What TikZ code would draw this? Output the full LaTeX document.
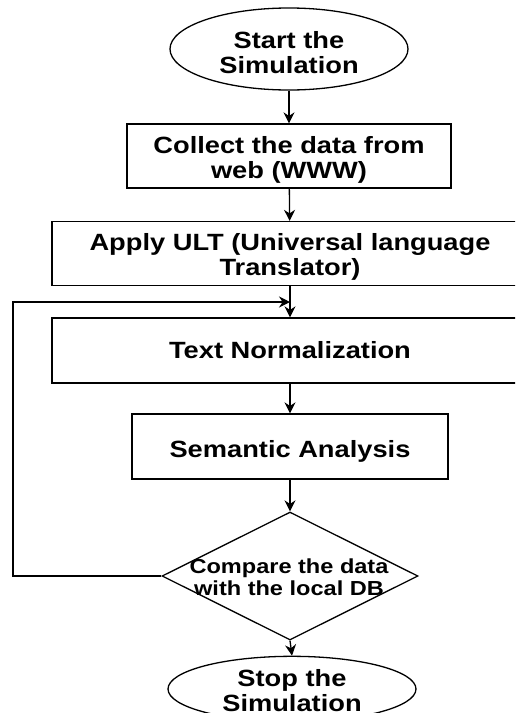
\documentclass[tikz,border=0pt]{standalone}
\usepackage{fontspec}
\setmainfont{Liberation Sans}[FakeStretch=1.16]
\usetikzlibrary{shapes.geometric,arrows.meta}
\begin{document}
\begin{tikzpicture}[x=1pt,y=-1pt,line width=1.3pt,
  flow/.style={-{Stealth[length=11pt,width=11pt]}},
  term/.style={draw,ellipse,inner sep=0pt,align=center,font=\fontsize{23.5}{25}\selectfont\bfseries},
  proc/.style={draw,rectangle,inner sep=0pt,align=center,font=\fontsize{23.5}{25}\selectfont\bfseries},
  dec/.style={draw,diamond,inner sep=0pt,aspect=2,minimum width=256pt,minimum height=128pt},
  dectext/.style={align=center,inner sep=0pt,font=\fontsize{20.3}{22}\selectfont\bfseries}]
\clip (0,0) rectangle (515,713);
\fill[white] (0,0) rectangle (515,713);
\node[term,minimum width=238pt,minimum height=82pt] (start) at (289,49) {\rule{0pt}{24pt}Start the\\Simulation};
\node[proc,minimum width=324pt,minimum height=64pt] (collect) at (289,156) {\rule{0pt}{25pt}Collect the data from\\web (WWW)};
\node[proc,minimum width=476pt,minimum height=64pt] (apply) at (290,253.5) {\rule{0pt}{23pt}Apply ULT (Universal language\\Translator)};
\node[proc,minimum width=476pt,minimum height=65pt] (norm) at (290,350.5) {Text Normalization};
\node[proc,minimum width=316pt,minimum height=65pt] (sem) at (290,446.5) {\rule{0pt}{26pt}Semantic Analysis};
\node[dec] (dec) at (290,576) {};
\node[dectext] (dect) at (289,577) {Compare the data\\with the local DB};
\node[term,minimum width=248pt,minimum height=62pt] (stop) at (292,689) {\rule{0pt}{21pt}Stop the\\Simulation};
\coordinate (j) at (290,302);
\coordinate (lc) at (13,302);
\draw[flow] (start) -- (collect);
\draw[flow] (collect) -- (apply);
\draw[flow] (apply) -- (norm);
\draw[flow] (norm) -- (sem);
\draw[flow] (sem) -- (dec);
\draw[flow] (dec.south) -- (stop.north);
\draw[flow] (dec.west) -| (lc) -- (j);
\end{tikzpicture}
\end{document}
